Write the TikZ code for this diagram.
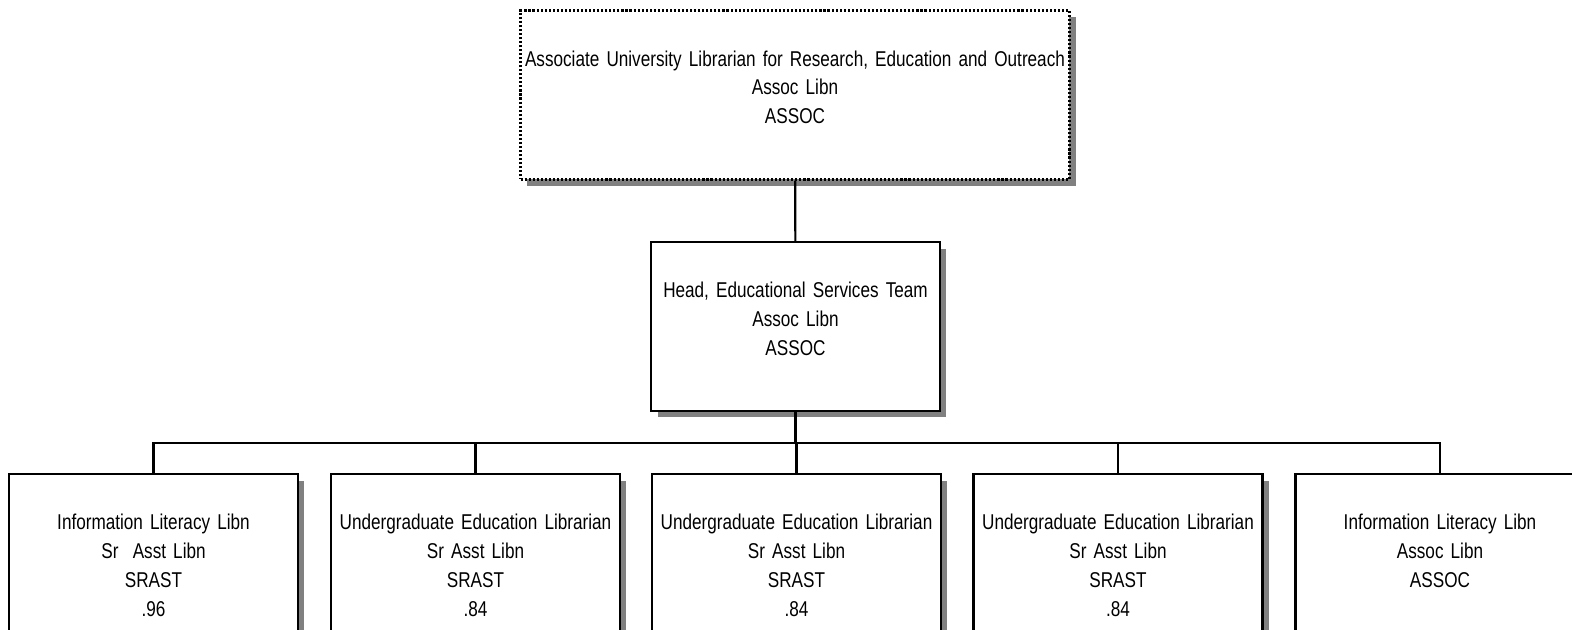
\documentclass[tikz,border=0pt]{standalone}
\usepackage{fontspec}
\setmainfont[FakeStretch=0.80]{Liberation Sans}
\usepackage{tikz}
\usetikzlibrary{shadows}
\hyphenpenalty=10000

\tikzset{
  posbox/.style={draw, line width=1.3pt, fill=white, align=center,
    inner xsep=0pt, inner ysep=0pt,
    text height=1.11cm, text depth=2.27cm,
    font=\fontsize{12.2}{16.5}\selectfont,
    drop shadow={shadow xshift=0.13cm, shadow yshift=-0.13cm,
      fill=black!50, opacity=1}},
  small/.style={posbox, text width=5.78cm},
  wide/.style={posbox, text width=10.98cm},
  vacant/.style={dash pattern=on 1.2pt off 1.1pt},
  link/.style={line width=1.2pt}
}

\begin{document}
\begin{tikzpicture}[x=0.02cm, y=-0.02cm]

  \useasboundingbox (0,0) rectangle (1572,629);

  % --- Associate University Librarian ---
  \node[wide, vacant] (aul) at (795,95)
    {Associate University Librarian for Research, Education and Outreach\\Assoc Libn\\ASSOC};

  % --- Head of team ---
  \node[small] (head) at (795.5,326.5)
    {Head, Educational Services Team\\Assoc Libn\\ASSOC};

  % --- Librarians ---
  \node[small] (il1) at (153.5,558.5)
    {Information Literacy Libn\\Sr\ \ Asst Libn\\SRAST\\.96};
  \node[small] (ue1) at (475.5,558.5)
    {Undergraduate Education Librarian\\Sr Asst Libn\\SRAST\\.84};
  \node[small] (ue2) at (796.5,558.5)
    {Undergraduate Education Librarian\\Sr Asst Libn\\SRAST\\.84};
  \node[small] (ue3) at (1118,558.5)
    {Undergraduate Education Librarian\\Sr Asst Libn\\SRAST\\.84};
  \node[small] (il2) at (1440,558.5)
    {Information Literacy Libn\\Assoc Libn\\ASSOC};

  % Lines
  \coordinate (bus) at (795.5,443);
  \draw[link] (aul) -- (head);
  \draw[link] (head) -- (bus);
  \draw[link] (il1.north) |- (bus) -| (il2.north);
  \draw[link] (ue1.north) -- (ue1.north |- bus);
  \draw[link] (ue2.north) -- (ue2.north |- bus);
  \draw[link] (ue3.north) -- (ue3.north |- bus);

\end{tikzpicture}
\end{document}
